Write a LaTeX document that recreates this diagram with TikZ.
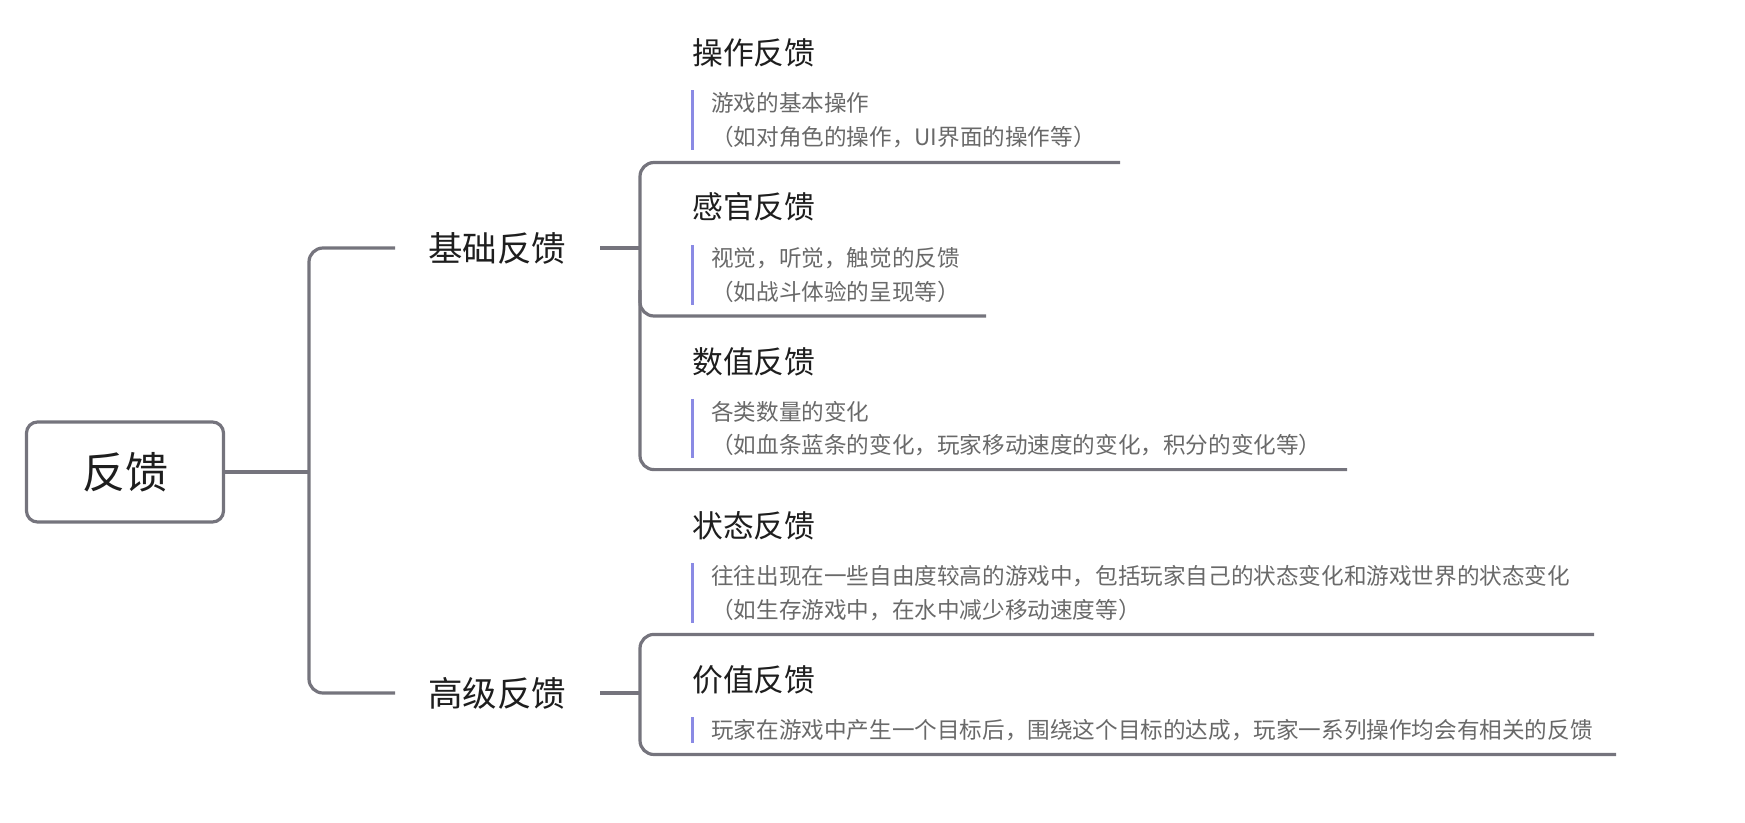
\documentclass[tikz,border=0pt]{standalone}
\usepackage{fontspec}
\setmainfont{Noto Sans CJK SC}
\usetikzlibrary{positioning}
\definecolor{linegray}{RGB}{117,116,125}
\definecolor{barblue}{RGB}{138,138,228}
\definecolor{titletext}{RGB}{30,30,30}
\definecolor{notetext}{RGB}{105,105,105}
\tikzset{
  branch/.style={draw=linegray,line width=3.2pt,rounded corners=14pt},
  topic/.style={anchor=west,inner sep=0pt,text=titletext,font=\fontsize{30.8}{36}\selectfont},
  note/.style={anchor=west,inner xsep=0pt,inner ysep=2pt,align=left,text=notetext,font=\fontsize{22.6}{33.4}\selectfont},
  notebar/.style={draw=barblue,line width=3pt},
}

\begin{document}
\begin{tikzpicture}[x=1pt,y=-1pt]
\useasboundingbox (0,0) rectangle (1745,822);
% root and first level
\node[draw=linegray,line width=3.2pt,rounded corners=11pt,minimum width=197pt,minimum height=100pt,text=titletext,font=\fontsize{43}{50}\selectfont] (fk) at (125,472) {反馈};
\node[topic,font=\fontsize{34.5}{40}\selectfont] (jc) at (428,248) {基础反馈};
\node[topic,font=\fontsize{34.5}{40}\selectfont] (gj) at (428,693) {高级反馈};
\coordinate (trunk) at (309,472);
\draw[branch] (fk.east) -- (trunk);
\draw[branch] ([xshift=-33pt]jc.west) -| (trunk) |- ([xshift=-33pt]gj.west);
% second level topics
\foreach \n/\y/\t in {cz/53/操作反馈,gg/207/感官反馈,sz/362/数值反馈,zt/526/状态反馈,jz/680/价值反馈}
  \node[topic] (\n) at (692,\y) {\t};
\node[note] (cz-n) at (711,120) {游戏的基本操作\\（如对角色的操作，UI界面的操作等）};
\node[note] (gg-n) at (711,275) {视觉，听觉，触觉的反馈\\（如战斗体验的呈现等）};
\node[note] (sz-n) at (711,428.5) {各类数量的变化\\（如血条蓝条的变化，玩家移动速度的变化，积分的变化等）};
\node[note] (zt-n) at (711,593) {往往出现在一些自由度较高的游戏中，包括玩家自己的状态变化和游戏世界的状态变化\\（如生存游戏中，在水中减少移动速度等）};
\node[note] (jz-n) at (711,730) {玩家在游戏中产生一个目标后，围绕这个目标的达成，玩家一系列操作均会有相关的反馈};
\foreach \n in {cz,gg,sz,zt,jz}
  \draw[notebar] ([xshift=-19pt]\n-n.north west) -- ([xshift=-19pt]\n-n.south west);
% underlines
\coordinate (cz-u) at (1120,162.5);
\coordinate (gg-u) at (986,316);
\coordinate (sz-u) at (1347,469.6);
\coordinate (zt-u) at (1594,634.4);
\coordinate (jz-u) at (1616,754.5);
% brackets
\draw[branch] ([xshift=34pt]jc.east) -- (640,248);
\draw[branch] (cz-u) -- (640,162.5) -- (640,469.6) -- (sz-u);
\draw[branch] (640,290) |- (gg-u);
\draw[branch] ([xshift=34pt]gj.east) -- (640,693);
\draw[branch] (zt-u) -- (640,634.4) -- (640,754.5) -- (jz-u);
\end{tikzpicture}
\end{document}
